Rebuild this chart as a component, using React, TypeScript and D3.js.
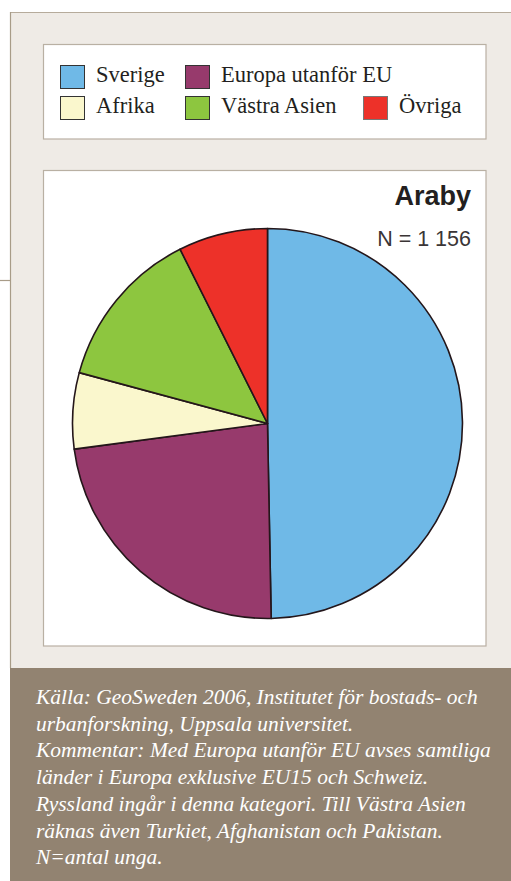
import React, { useLayoutEffect, useRef, useState } from "react";
import * as d3 from "d3";

const categories = ["Sverige", "Europa utanför EU", "Afrika", "Västra Asien", "Övriga"];
const shares = [49.7, 23.2, 6.3, 13.4, 7.4];
const colors = ["#6fb9e7", "#973a6c", "#faf7cd", "#8dc63f", "#ed3129"];
const legendOrder = [
  { idx: 0, col: 0, row: 0 },
  { idx: 1, col: 1, row: 0 },
  { idx: 2, col: 0, row: 1 },
  { idx: 3, col: 1, row: 1 },
  { idx: 4, col: 2, row: 1 },
];
const title = "Araby";
const subtitle = "N = 1 156";
const notes = [
  "Källa: GeoSweden 2006, Institutet för bostads- och",
  "urbanforskning, Uppsala universitet.",
  "Kommentar: Med Europa utanför EU avses samtliga",
  "länder i Europa exklusive EU15 och Schweiz.",
  "Ryssland ingår i denna kategori. Till Västra Asien",
  "räknas även Turkiet, Afghanistan och Pakistan.",
  "N=antal unga.",
];

export default function App() {
  const W = 511;
  const H = 881;
  const data = categories.map((c, i) => ({ name: c, value: shares[i], color: colors[i] }));
  const pie = d3.pie<any>().sort(null).value((d: any) => d.value).startAngle(0).endAngle(2 * Math.PI);
  const arcs = pie(data);
  const R = 195;
  const arc = d3.arc<any>().innerRadius(0).outerRadius(R);
  const cx = 267.5;
  const cy = 423.5;
  const colX = [60, 185, 363];
  const rowY = [65, 96];
  const noteY = d3.range(notes.length).map((i) => 704 + i * 26.7);

  const refLine = useRef<SVGTextElement>(null);
  const [sx, setSx] = useState(1);
  useLayoutEffect(() => {
    if (refLine.current) {
      const len = refLine.current.getComputedTextLength();
      if (len > 0) setSx(455 / len);
    }
  }, []);

  return (
    <svg
      width={W}
      height={H}
      style={{ position: "fixed", left: 0, top: 0 }}
      xmlns="http://www.w3.org/2000/svg"
    >
      <rect x={0} y={0} width={W} height={H} fill="#ffffff" />
      {/* outer beige panel */}
      <rect x={10} y={12} width={W - 10} height={H - 12} fill="#efebe6" />
      <line x1={10} y1={12.5} x2={W} y2={12.5} stroke="#b6ab9b" strokeWidth={1.2} />
      <line x1={10.5} y1={12} x2={10.5} y2={668} stroke="#a89c88" strokeWidth={1.2} />
      <line x1={0} y1={280.5} x2={10} y2={280.5} stroke="#a89c88" strokeWidth={1.2} />

      {/* legend box */}
      <rect x={43.5} y={44.5} width={442.5} height={94.5} fill="#ffffff" stroke="#b9b0a3" strokeWidth={1.2} />
      {legendOrder.map((l) => (
        <g key={l.idx}>
          <rect
            x={colX[l.col] + 0.5}
            y={rowY[l.row] + 0.5}
            width={24}
            height={23}
            fill={colors[l.idx]}
            stroke={l.idx === 4 ? "#777" : "#333"}
            strokeWidth={1}
          />
          <text
            x={colX[l.col] + 36}
            y={rowY[l.row] + 17}
            fontFamily="'Liberation Serif', serif"
            fontSize={22.5}
            fill="#231f20"
          >
            {categories[l.idx]}
          </text>
        </g>
      ))}

      {/* chart box */}
      <rect x={43.5} y={170.5} width={442.5} height={475.5} fill="#ffffff" stroke="#b9b0a3" strokeWidth={1.2} />
      <text
        x={471}
        y={205}
        textAnchor="end"
        fontFamily="'Liberation Sans Narrow', 'Liberation Sans', sans-serif"
        fontWeight="bold"
        fontSize={27}
        fill="#231f20"
      >
        {title}
      </text>
      <text
        x={471}
        y={246}
        textAnchor="end"
        fontFamily="'Liberation Sans Narrow', 'Liberation Sans', sans-serif"
        fontSize={21.5}
        fill="#3a3536"
      >
        {subtitle}
      </text>
      <g transform={`translate(${cx},${cy})`}>
        {arcs.map((a, i) => (
          <path key={i} d={arc(a) as string} fill={a.data.color} stroke="#24161a" strokeWidth={1.6} strokeLinejoin="round" />
        ))}
      </g>

      {/* notes panel */}
      <rect x={10} y={668} width={W - 10} height={H - 668} fill="#928371" />
      {notes.map((t, i) => (
        <text
          key={i}
          ref={i === 2 ? refLine : undefined}
          transform={`translate(36,${noteY[i]}) scale(${sx},1)`}
          fontFamily="'Liberation Serif', serif"
          fontStyle="italic"
          fontSize={20.5}
          fill="#ffffff"
        >
          {t}
        </text>
      ))}
    </svg>
  );
}
